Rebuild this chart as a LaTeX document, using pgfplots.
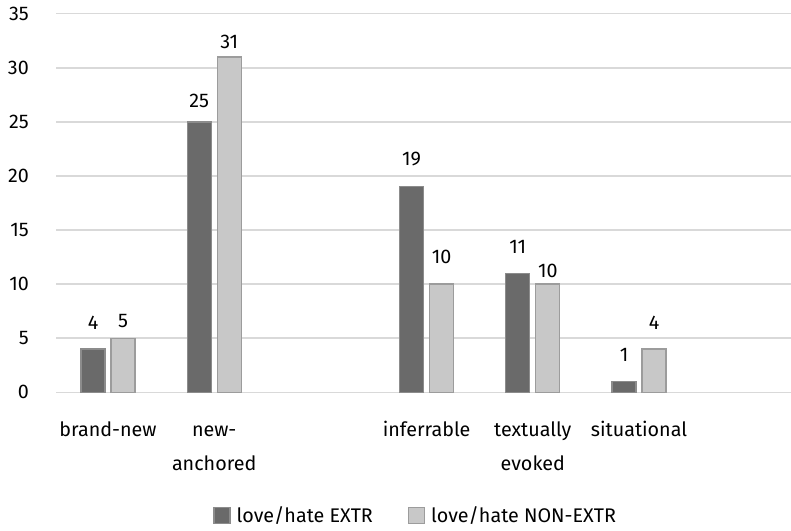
\documentclass[border=0pt]{standalone}
\usepackage{pgfplots}
\pgfplotsset{compat=1.18}
\usepackage{pgfplotstable}
\usepackage{fontspec}
\setmainfont{Fira Sans}
\definecolor{darkbar}{HTML}{6A6A6A}
\definecolor{darkedge}{HTML}{8C8C8C}
\definecolor{lightbar}{HTML}{C8C8C8}
\definecolor{lightedge}{HTML}{9C9C9C}
\definecolor{gridc}{HTML}{D9D9D9}
\newcommand\cf{\fontsize{19.8}{34}\selectfont}
\pgfplotstableread{
x y dy
0 4 20
1 25 14
3 19 21
4 11 20
5 1 20
}\extr
\pgfplotstableread{
x y dy
0 5 11
1 31 8
3 10 21
4 10 7
5 4 20
}\nonextr
\begin{document}
\begin{tikzpicture}
\path[use as bounding box] (0bp,0bp) rectangle (791bp,-531bp);
\begin{axis}[
  at={(56bp,-392.3bp)}, anchor=south west,
  scale only axis, width=735bp, height=378.6bp,
  xmin=-0.4896, xmax=6.431, ymin=0, ymax=35,
  ybar,
  legend image code/.code={\draw[#1, line width=1.3bp] (0bp,-8bp) rectangle (16bp,8bp);},
  ytick={0,5,...,35},
  xtick={0,1,3,4,5},
  xticklabels={\rule{0pt}{15bp}brand-new,{\rule{0pt}{15bp}new-\\anchored},\rule{0pt}{15bp}inferrable,{\rule{0pt}{15bp}textually\\evoked},\rule{0pt}{15bp}situational},
  /pgf/number format/assume math mode=true,
  axis line style={draw=none},
  tick style={draw=none},
  ymajorgrids,
  major grid style={draw=gridc, line width=1.5bp},
  yticklabel style={anchor=east, inner sep=0pt, xshift=-27bp, font=\cf, text=black},
  xticklabel style={anchor=north, align=center, inner sep=0pt, yshift=-24.7bp, font=\cf, text=black},
  clip=false,
  legend columns=2,
  legend style={at={(0.488,-0.326)}, anchor=center, draw=none, fill=none, inner sep=0pt,
    font=\cf, nodes={inner sep=0pt},
    /tikz/every odd column/.append style={column sep=6bp},
    /tikz/every even column/.append style={column sep=35bp}},
]
\addplot[bar width=24bp, bar shift=-15bp, fill=darkbar, draw=darkedge, line width=1.3bp,
  visualization depends on={\thisrow{dy}\as\dy},
  nodes near coords,
  nodes near coords style={anchor=base, inner sep=0pt, yshift=\dy bp, font=\cf, text=black}
] table[x=x,y=y]{\extr};
\addlegendentry{love/hate EXTR}
\addplot[bar width=24bp, bar shift=15bp, fill=lightbar, draw=lightedge, line width=1.3bp,
  visualization depends on={\thisrow{dy}\as\dy},
  nodes near coords,
  nodes near coords style={anchor=base, inner sep=0pt, yshift=\dy bp, font=\cf, text=black}
] table[x=x,y=y]{\nonextr};
\addlegendentry{love/hate NON-EXTR}
\end{axis}
\end{tikzpicture}
\end{document}
